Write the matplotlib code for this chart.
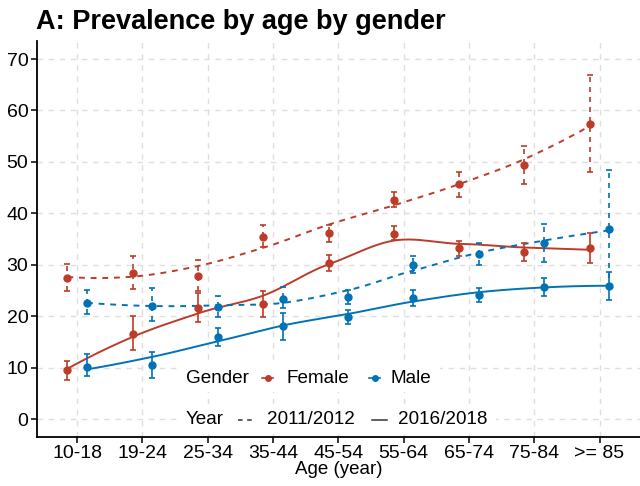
import numpy as np
import matplotlib
matplotlib.use("Agg")
import matplotlib.pyplot as plt
from matplotlib.lines import Line2D
from matplotlib.patches import Rectangle

plt.rcParams['font.family'] = ['Liberation Sans', 'DejaVu Sans']

age_groups = ['10-18', '19-24', '25-34', '35-44', '45-54', '55-64', '65-74', '75-84', '>= 85']

female_2011 = [27.5, 28.3, 27.9, 35.4, 36.1, 42.6, 45.6, 49.4, 57.4]
female_2011_lo = [24.9, 25.3, 24.9, 33.4, 34.5, 41.2, 43.2, 45.7, 48.1]
female_2011_hi = [30.1, 31.7, 30.9, 37.7, 37.7, 44.2, 48.0, 53.1, 66.8]

female_2016 = [9.5, 16.5, 21.6, 22.4, 30.3, 36.0, 33.2, 32.5, 33.3]
female_2016_lo = [7.6, 13.4, 18.9, 19.9, 28.8, 34.8, 31.6, 30.7, 30.4]
female_2016_hi = [11.3, 20.0, 24.5, 24.9, 31.8, 37.5, 34.6, 34.3, 36.2]

male_2011 = [22.6, 22.0, 21.8, 23.3, 23.8, 29.9, 32.1, 34.2, 36.9]
male_2011_lo = [20.4, 19.1, 19.9, 21.5, 22.3, 28.3, 29.9, 30.5, 25.5]
male_2011_hi = [25.1, 25.4, 24.0, 25.7, 25.1, 31.6, 34.2, 37.9, 48.4]

male_2016 = [10.2, 10.5, 16.0, 18.1, 19.9, 23.5, 24.2, 25.7, 25.9]
male_2016_lo = [8.4, 8.0, 14.2, 15.4, 18.5, 22.0, 22.8, 24.0, 23.1]
male_2016_hi = [12.6, 13.0, 17.6, 20.7, 21.2, 25.1, 25.5, 27.5, 28.6]

RED = '#BC3C29'
BLUE = '#0072B5'
GRID = '#DEDEDE'


def loess_at(x, y, x0, span=0.75):
    """Local quadratic fit with tricube weights; returns value and slope at x0."""
    n = len(x)
    q = int(np.floor(n * span))
    d = np.abs(x - x0)
    h = np.sort(d)[q - 1] * 1.0001
    w = np.clip(1 - (d / h) ** 3, 0, None) ** 3
    X = np.vstack([np.ones(n), x - x0, (x - x0) ** 2]).T
    W = np.diag(w)
    beta = np.linalg.solve(X.T @ W @ X, X.T @ W @ y)
    return beta[0], beta[1]


def loess_curve(x, y, xs, span=0.75):
    """Loess fitted at the vertices (data x) and joined by cubic Hermite pieces."""
    x = np.asarray(x, float)
    y = np.asarray(y, float)
    fits = np.array([loess_at(x, y, v, span) for v in x])
    val, slope = fits[:, 0], fits[:, 1]
    out = np.empty(len(xs))
    for i, t in enumerate(xs):
        k = min(max(np.searchsorted(x, t) - 1, 0), len(x) - 2)
        hk = x[k + 1] - x[k]
        s = (t - x[k]) / hk
        h00 = 2 * s**3 - 3 * s**2 + 1
        h10 = s**3 - 2 * s**2 + s
        h01 = -2 * s**3 + 3 * s**2
        h11 = s**3 - s**2
        out[i] = h00 * val[k] + h10 * hk * slope[k] + h01 * val[k + 1] + h11 * hk * slope[k + 1]
    return out


fig = plt.figure(figsize=(6.4, 4.86), dpi=100)
ax = fig.add_axes([36.7 / 640, 1 - 437 / 486, 1 - 36.7 / 640, (437 - 41) / 486])

pos = np.arange(len(age_groups))
dodge = 0.15

series = [
    (female_2011, female_2011_lo, female_2011_hi, RED, -dodge, '--'),
    (female_2016, female_2016_lo, female_2016_hi, RED, -dodge, '-'),
    (male_2011, male_2011_lo, male_2011_hi, BLUE, dodge, '--'),
    (male_2016, male_2016_lo, male_2016_hi, BLUE, dodge, '-'),
]

for vals, lo, hi, col, off, ls in series:
    x = pos + off
    xs = np.linspace(x.min(), x.max(), 200)
    ys = loess_curve(x, vals, xs)
    if ls == '--':
        ax.plot(xs, ys, color=col, lw=1.4, dashes=(3, 3), zorder=3)
    else:
        ax.plot(xs, ys, color=col, lw=1.4, zorder=3)
    vals = np.asarray(vals)
    yerr = [vals - np.asarray(lo), np.asarray(hi) - vals]
    eb = ax.errorbar(x, vals, yerr=yerr, fmt='o', color=col, ms=5,
                     elinewidth=1.2, capsize=2.4, capthick=1.2, zorder=4)
    if ls == '--':
        eb[2][0].set_linestyle((0, (3, 3)))

ax.set_xlim(-0.62, 8.62)
ax.set_ylim(-3.5, 73.5)
ax.set_xticks(pos)
ax.set_xticklabels(age_groups)
ax.set_yticks(np.arange(0, 71, 10))
ax.grid(True, color=GRID, lw=1.0, linestyle=(0, (4, 4)))
ax.set_axisbelow(True)
for s in ['top', 'right']:
    ax.spines[s].set_visible(False)
for s in ['left', 'bottom']:
    ax.spines[s].set_linewidth(1.3)
    ax.spines[s].set_color('black')
ax.tick_params(axis='both', labelsize=14, color='black', length=4, width=1.1,
               labelcolor='black', pad=2)
ax.set_xlabel('Age (year)', fontsize=13.5, labelpad=-1)

fig.text(36 / 640, 1 - 22 / 486, 'A: Prevalence by age by gender', fontsize=19.5,
         fontweight='bold', ha='left', va='center')


def fx(px):
    return px / 640


def fy(py):
    return 1 - py / 486


# legend panels
fig.add_artist(Rectangle((fx(178), fy(392)), fx(440) - fx(178), fy(364) - fy(392),
                         transform=fig.transFigure, facecolor='white', edgecolor='none', zorder=5))
fig.add_artist(Rectangle((fx(178), fy(434)), fx(496) - fx(178), fy(406) - fy(434),
                         transform=fig.transFigure, facecolor='white', edgecolor='none', zorder=5))

ty1, ty2 = 378, 420
fs = 13.6
fig.text(fx(186), fy(ty1), 'Gender', fontsize=fs, va='center', ha='left', zorder=6)
fig.add_artist(Line2D([fx(262), fx(273)], [fy(ty1), fy(ty1)], color=RED, lw=1.2,
                      transform=fig.transFigure, zorder=6))
fig.add_artist(Line2D([fx(267.5)], [fy(ty1)], color=RED, marker='o', ms=4,
                      transform=fig.transFigure, zorder=6))
fig.text(fx(287), fy(ty1), 'Female', fontsize=fs, va='center', ha='left', zorder=6)
fig.add_artist(Line2D([fx(369), fx(380)], [fy(ty1), fy(ty1)], color=BLUE, lw=1.2,
                      transform=fig.transFigure, zorder=6))
fig.add_artist(Line2D([fx(374.5)], [fy(ty1)], color=BLUE, marker='o', ms=4,
                      transform=fig.transFigure, zorder=6))
fig.text(fx(390), fy(ty1), 'Male', fontsize=fs, va='center', ha='left', zorder=6)

fig.text(fx(186), fy(ty2), 'Year', fontsize=fs, va='center', ha='left', zorder=6)
fig.add_artist(Line2D([fx(238), fx(252)], [fy(ty2), fy(ty2)], color='#333333', lw=1.1,
                      dashes=(3, 3), transform=fig.transFigure, zorder=6))
fig.text(fx(267), fy(ty2), '2011/2012', fontsize=fs, va='center', ha='left', zorder=6)
fig.add_artist(Line2D([fx(372), fx(387)], [fy(ty2), fy(ty2)], color='#333333', lw=1.1,
                      transform=fig.transFigure, zorder=6))
fig.text(fx(398), fy(ty2), '2016/2018', fontsize=fs, va='center', ha='left', zorder=6)

fig.savefig('out.png', dpi=100, facecolor='white')
